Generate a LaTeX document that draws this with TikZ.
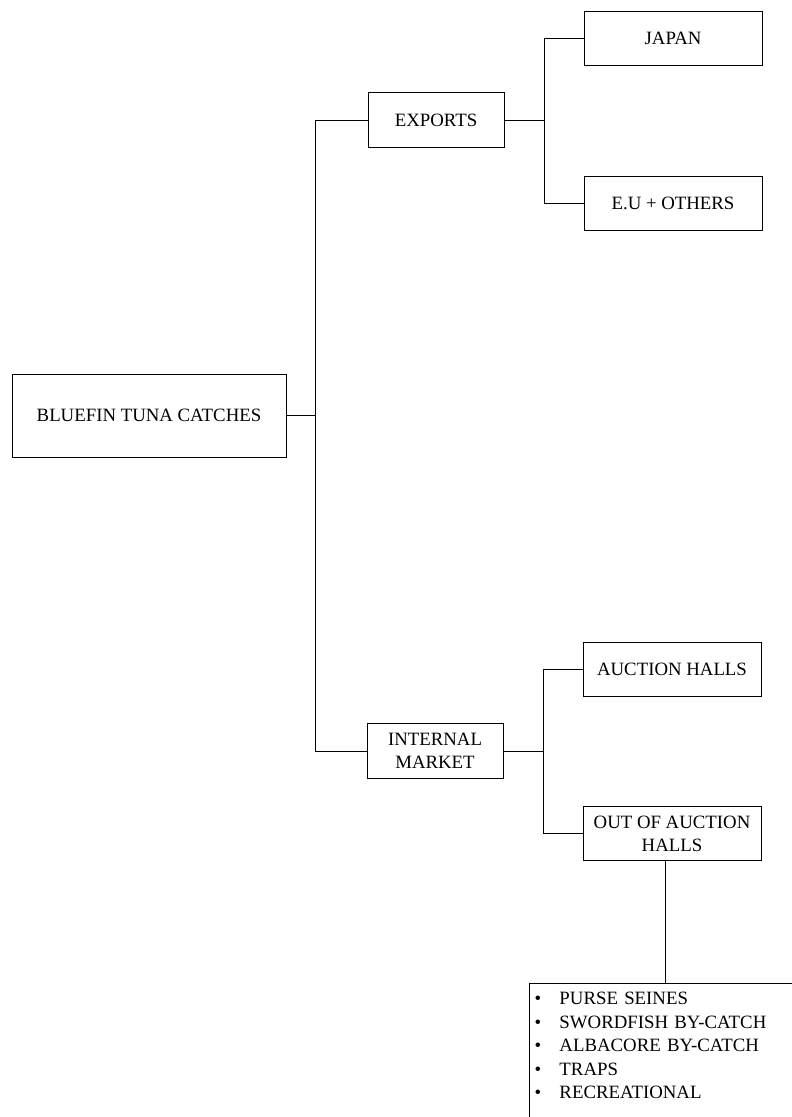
\documentclass[tikz,border=0pt]{standalone}
\usepackage{fontspec}
\setmainfont{Liberation Serif}
\usetikzlibrary{positioning}

\begin{document}
\begin{tikzpicture}[
    x=0.5pt, y=-0.5pt,
    font=\fontsize{9.4}{11.5}\selectfont,
    box/.style={draw, line width=0.5pt, align=center, inner sep=1pt},
    wide/.style={box, minimum width=89pt, minimum height=27pt},
    mid/.style={box, minimum width=68pt, minimum height=27.5pt},
    link/.style={line width=0.5pt},
  ]
  \useasboundingbox (0,0) rectangle (791,1117);

  \node[box, minimum width=137pt, minimum height=41.5pt] (catch) at (149,415.5)
    {BLUEFIN TUNA CATCHES};
  \node[mid]  (exports)  at (436,120.5) {EXPORTS};
  \node[mid]  (internal) at (435,751)   {INTERNAL\\MARKET};
  \node[wide] (japan)    at (673,38.5)  {JAPAN};
  \node[wide] (eu)       at (673,203.5) {E.U + OTHERS};
  \node[wide] (auction)  at (672,669)   {AUCTION HALLS};
  \node[wide] (outof)    at (672,833.5) {OUT OF AUCTION\\HALLS};
  \node[draw, line width=0.5pt, anchor=north west, align=left,
        text width=135pt, inner xsep=2.5pt, inner ysep=4.5pt,
        font=\fontsize{9.4}{11.75}\selectfont] (gears) at (529,983)
    {\makebox[12.5pt][l]{\textbullet}PURSE SEINES\\
     \makebox[12.5pt][l]{\textbullet}SWORDFISH BY-CATCH\\
     \makebox[12.5pt][l]{\textbullet}ALBACORE BY-CATCH\\
     \makebox[12.5pt][l]{\textbullet}TRAPS\\
     \makebox[12.5pt][l]{\textbullet}RECREATIONAL\\
     \strut};

  % fork points
  \coordinate (trunk) at (315,0);
  \coordinate (forkA) at (544,0);
  \coordinate (forkB) at (543,0);

  \draw[link] (catch.east) -- (catch.east -| trunk);
  \draw[link] (exports.west) -- (exports.west -| trunk) -- (internal.west -| trunk) -- (internal.west);
  \draw[link] (exports.east) -- (exports.east -| forkA);
  \draw[link] (japan.west) -- (japan.west -| forkA) -- (eu.west -| forkA) -- (eu.west);
  \draw[link] (internal.east) -- (internal.east -| forkB);
  \draw[link] (auction.west) -- (auction.west -| forkB) -- (outof.west -| forkB) -- (outof.west);
  \draw[link] ([xshift=-3.5pt]outof.south) -- ([xshift=-3.5pt]outof.south |- gears.north);
\end{tikzpicture}
\end{document}
